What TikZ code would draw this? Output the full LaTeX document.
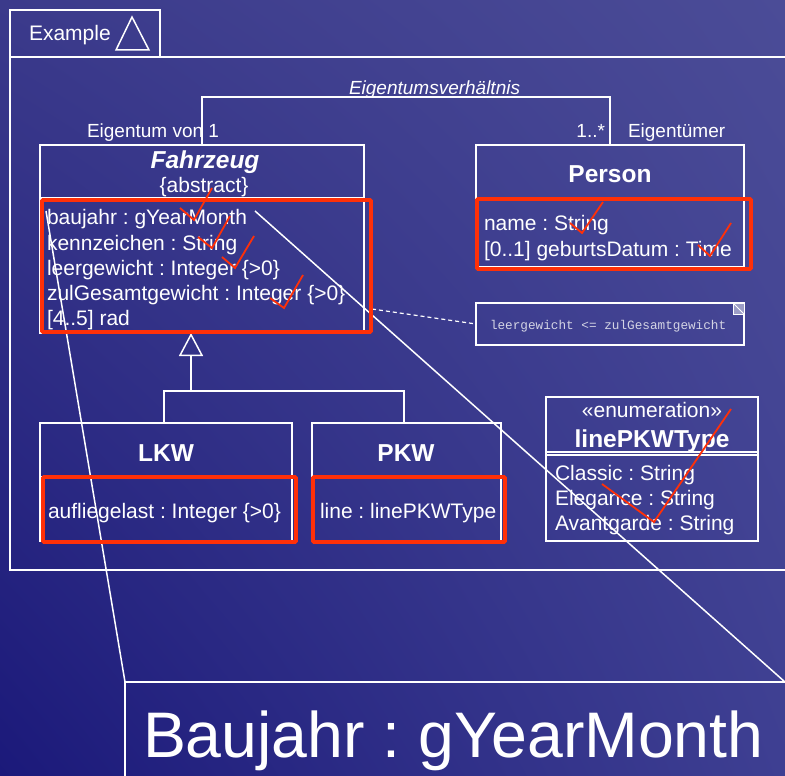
\documentclass[tikz,border=0pt]{standalone}
\usepackage{fontspec}
\setmainfont{Liberation Sans}
\setmonofont{Liberation Mono}
\usetikzlibrary{arrows.meta,shadings}
\frenchspacing

\definecolor{bgUL}{HTML}{3B3A8B}
\definecolor{bgUR}{HTML}{4B4C97}
\definecolor{bgLL}{HTML}{1B197A}
\definecolor{bgLR}{HTML}{3E3F92}
\definecolor{hilite}{RGB}{255,48,8}
\definecolor{notetext}{HTML}{D4D4E4}

\tikzset{
  wline/.style={draw=white, line width=1.5pt},
  classbox/.style={draw=white, line width=1.5pt, inner sep=0pt, outer sep=0pt, anchor=north west},
  plain/.style={inner sep=0pt, outer sep=0pt, anchor=base west},
  txt/.style={plain, text=white, font=\fontsize{21pt}{25pt}\selectfont},
  ctxt/.style={txt, anchor=base},
  lbl/.style={plain, text=white, font=\fontsize{19pt}{22pt}\selectfont},
  title/.style={inner sep=0pt, outer sep=0pt, anchor=base, text=white, font=\fontsize{24.5pt}{28pt}\selectfont\bfseries},
  hibox/.style={draw=hilite, line width=3.6pt, rounded corners=1pt},
  tick/.style={draw=hilite, line width=1.8pt},
  genarrow/.style={wline, -{Triangle[open, length=23pt, width=24pt, line width=1.5pt]}},
  notelink/.style={draw=white, line width=1.2pt, dash pattern=on 4pt off 3pt},
}

\begin{document}
\begin{tikzpicture}[x=1pt, y=-1pt]
  \useasboundingbox (0,0) rectangle (785,776);
  \clip (0,0) rectangle (785,776);
  % background
  \shade[upper left=bgUL, upper right=bgUR, lower left=bgLL, lower right=bgLR]
    (0,0) rectangle (785,776);

  % package frame with its tab
  \node[classbox, minimum width=150pt, minimum height=47pt] (tab) at (10,10) {};
  \node[txt] (tabname) at (29,41) {Example};
  \draw[wline] (132,17) -- (116,50) -- (149,50) -- cycle;
  \draw[wline] (800,57) -- (10,57) -- (10,570) -- (800,570);

  % class Fahrzeug
  \node[classbox, minimum width=324pt, minimum height=188pt] (fahrzeug) at (40,145) {};
  \draw[wline] (40,198) -- (364,198);
  \node[title, font=\fontsize{24.5pt}{28pt}\selectfont\bfseries\itshape] (fzname) at (205,168) {Fahrzeug};
  \node[ctxt] (fzabs) at (204,192) {\{abstract\}};
  \node[txt] (fza1) at (47,224) {baujahr : gYearMonth};
  \node[txt] (fza2) at (47,250) {kennzeichen : String};
  \node[txt] (fza3) at (47,275) {leergewicht : Integer \{>0\}};
  \node[txt] (fza4) at (47,300) {zulGesamtgewicht : Integer \{>0\}};
  \node[txt] (fza5) at (47,325) {[4..5] rad};

  % class Person
  \node[classbox, minimum width=268pt, minimum height=122pt] (person) at (476,145) {};
  \draw[wline] (476,199) -- (744,199);
  \node[title] (pname) at (610,182) {Person};
  \node[txt] (pa1) at (484,230) {name : String};
  \node[txt] (pa2) at (484,256) {[0..1] geburtsDatum : Time};

  % association Eigentumsverhältnis
  \coordinate (asl) at (202,97);
  \coordinate (asr) at (610,97);
  \draw[wline] (asl |- fahrzeug.north) -- (asl) -- (asr) -- (asr |- person.north);
  \node[lbl, font=\fontsize{19pt}{22pt}\selectfont\itshape] (asname) at (349,95) {Eigentumsverhältnis};
  \node[lbl] (asrole1) at (87,137) {Eigentum von 1};
  \node[lbl, anchor=base east] (asmult2) at (605,137) {1..*};
  \node[lbl] (asrole2) at (628,137) {Eigentümer};

  % constraint note
  \node[classbox, minimum width=268pt, minimum height=42pt] (note) at (476,303) {};
  \node[plain, text=notetext, font=\ttfamily\fontsize{12.7pt}{15pt}\selectfont] (notetxt) at (490,329) {leergewicht <= zulGesamtgewicht};
  \draw[draw=white, line width=1pt, fill=white!45!bgUR] (733,303) rectangle (744,314);
  \draw[draw=white, line width=1pt] (733,303) -- (744,314);
  \coordinate (nsrc) at (372,309);
  \draw[notelink] (nsrc) -- (note.west);

  % subclasses LKW and PKW
  \node[classbox, minimum width=252pt, minimum height=118pt] (lkw) at (40,423) {};
  \draw[wline] (40,477) -- (292,477);
  \node[title] (lkwname) at (166,461) {LKW};
  \node[txt] (lkwa1) at (48,518) {aufliegelast : Integer \{>0\}};

  \node[classbox, minimum width=189pt, minimum height=118pt] (pkw) at (312,423) {};
  \draw[wline] (312,477) -- (501,477);
  \node[title] (pkwname) at (406,461) {PKW};
  \node[txt] (pkwa1) at (320,518) {line : linePKWType};

  % generalization
  \coordinate (gl) at (164,391);
  \coordinate (gm) at (191,391);
  \coordinate (gr) at (404,391);
  \draw[wline] (gl |- lkw.north) -- (gl) -- (gr) -- (gr |- pkw.north);
  \draw[genarrow] (gm) -- (gm |- fahrzeug.south);

  % enumeration linePKWType
  \node[classbox, minimum width=212pt, minimum height=144pt] (enum) at (546,397) {};
  \draw[wline] (546,452) -- (758,452);
  \draw[wline] (546,455) -- (758,455);
  \node[ctxt] (enst) at (652,417) {«enumeration»};
  \node[title] (enname) at (652,447) {linePKWType};
  \node[txt] (ena1) at (555,480) {Classic : String};
  \node[txt] (ena2) at (555,505) {Elegance : String};
  \node[txt] (ena3) at (555,530) {Avantgarde : String};

  % magnified callout
  \node[inner sep=0pt, outer sep=0pt, anchor=north west, minimum width=660pt, minimum height=94pt] (big) at (125,682) {};
  \coordinate (cl) at (46,211);
  \coordinate (cr) at (255,211);
  \draw[wline] (cl) -- (big.north west);
  \draw[wline] (cr) -- (big.north east);
  \draw[wline] (big.south west) -- (big.north west) -- (big.north east);
  \node[plain, text=white, font=\fontsize{64.4pt}{70pt}\selectfont] (bigtxt) at (143,757) {Baujahr : gYearMonth};

  % highlight frames
  \draw[hibox] (42,200) rectangle (371,332);
  \draw[hibox] (477,199) rectangle (751,269);
  \draw[hibox] (43,477) rectangle (296,542);
  \draw[hibox] (313,477) rectangle (505,542);

  % tick marks
  \draw[tick] (180,208) -- (194,220) -- (212,188);
  \draw[tick] (198,237) -- (212,248) -- (230,216);
  \draw[tick] (222,257) -- (235,268) -- (254,236);
  \draw[tick] (270,298) -- (284,308) -- (303,275);
  \draw[tick] (570,223) -- (582,233) -- (603,202);
  \draw[tick] (698,245) -- (710,256) -- (731,223);
  \draw[tick] (602,484) -- (654,522) -- (731,409);
\end{tikzpicture}
\end{document}
